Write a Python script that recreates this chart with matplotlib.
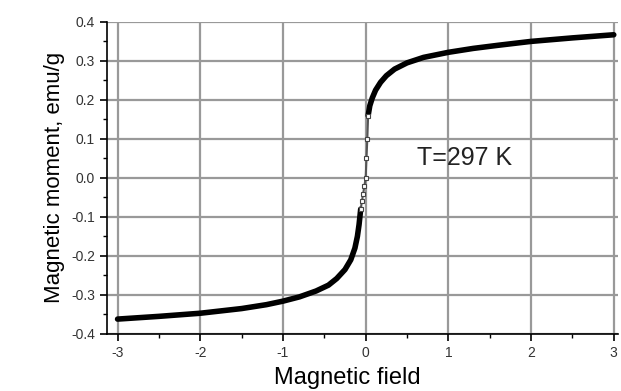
import matplotlib.pyplot as plt
from matplotlib.ticker import MultipleLocator

plt.rcParams["font.family"] = ["Liberation Sans", "DejaVu Sans"]
plt.rcParams["axes.unicode_minus"] = False

# Magnetisation curve (field, moment)
field_neg = [-3.0, -2.5, -2.0, -1.5, -1.2, -1.0, -0.8, -0.6, -0.45, -0.35,
             -0.25, -0.18, -0.13, -0.10, -0.08, -0.06]
moment_neg = [-0.362, -0.355, -0.347, -0.335, -0.325, -0.316, -0.305, -0.29,
              -0.275, -0.258, -0.235, -0.21, -0.18, -0.15, -0.12, -0.08]
field_pos = [0.03, 0.05, 0.08, 0.12, 0.18, 0.25, 0.35, 0.5, 0.7, 1.0, 1.3,
             1.6, 2.0, 2.5, 3.0]
moment_pos = [0.16, 0.185, 0.205, 0.225, 0.245, 0.262, 0.279, 0.295, 0.309,
              0.322, 0.332, 0.34, 0.35, 0.359, 0.367]
# sparse points across zero
field_mid = [-0.06, -0.045, -0.03, -0.015, 0.0, 0.01, 0.02, 0.03]
moment_mid = [-0.08, -0.06, -0.04, -0.02, 0.0, 0.05, 0.10, 0.16]

fig = plt.figure(figsize=(6.21, 3.91), dpi=100)
ax = fig.add_axes([0.172, 0.146, 0.823, 0.798])

ax.plot(field_neg, moment_neg, color="black", lw=4, solid_capstyle="round",
        solid_joinstyle="round", zorder=3)
ax.plot(field_pos, moment_pos, color="black", lw=4, solid_capstyle="round",
        solid_joinstyle="round", zorder=3)
ax.plot(field_mid, moment_mid, color="#555555", lw=1.5, marker="s", ms=3.5,
        mfc="white", mec="#444444", mew=0.8, zorder=3)

ax.text(0.62, 0.05, "T=297 K", fontsize=18, color="#222222", va="center", ha="left")

ax.set_xlim(-3.13, 3.05)
ax.set_ylim(-0.4, 0.4)
ax.xaxis.set_major_locator(MultipleLocator(1))
ax.xaxis.set_minor_locator(MultipleLocator(0.5))
ax.yaxis.set_major_locator(MultipleLocator(0.1))
ax.yaxis.set_minor_locator(MultipleLocator(0.05))
ax.yaxis.set_major_formatter(plt.FuncFormatter(lambda v, p: f"{v:.1f}"))

ax.grid(True, which="major", color="#999999", lw=1.6)
ax.set_axisbelow(True)
ax.spines["top"].set_visible(False)
ax.spines["right"].set_visible(False)
ax.spines["left"].set_linewidth(1.2)
ax.spines["bottom"].set_linewidth(1.2)
ax.tick_params(which="major", direction="out", length=5, width=1.2,
               labelsize=10, labelcolor="#333333")
ax.tick_params(which="minor", direction="out", length=3, width=1.0)

ax.set_xlabel("Magnetic field", fontsize=17)
ax.xaxis.set_label_coords(0.47, -0.105)
ax.set_ylabel("Magnetic moment, emu/g", fontsize=16, labelpad=4)

fig.savefig("out.png", dpi=100)
